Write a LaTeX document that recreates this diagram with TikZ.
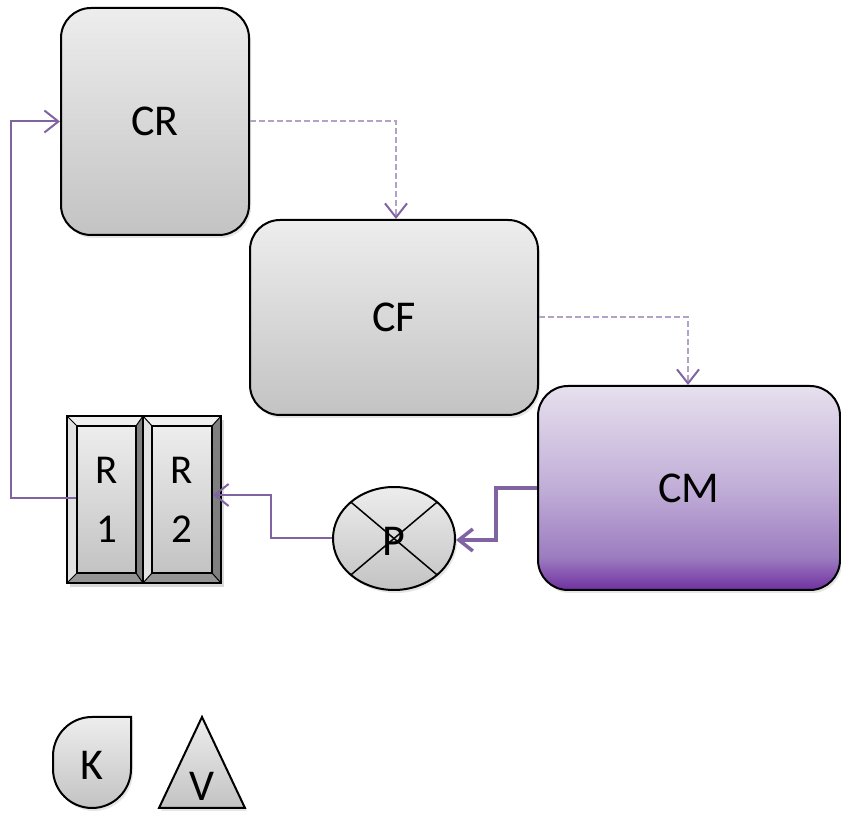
\documentclass[tikz,border=0pt]{standalone}
\usepackage{fontspec}
\setmainfont{Carlito}
\usetikzlibrary{arrows.meta,shadows,calc,shapes.geometric}
\definecolor{gtop}{HTML}{EDEDED}
\definecolor{gbot}{HTML}{C3C3C3}
\definecolor{cmtop}{HTML}{E6E0EE}
\definecolor{cmmid}{HTML}{C1AED7}
\definecolor{cmlow}{HTML}{9C7CC0}
\definecolor{cmbot}{HTML}{7030A0}
\definecolor{dashc}{HTML}{B3A2C7}
\definecolor{linec}{HTML}{8064A2}
\definecolor{bevlight}{HTML}{EFEFEF}
\definecolor{bevleft}{HTML}{E2E2E2}
\definecolor{bevright}{HTML}{7F7F7F}
\definecolor{bevbot}{HTML}{959595}
\pgfdeclareverticalshading{cmshade}{100bp}{color(0bp)=(cmbot); color(25bp)=(cmbot); color(33bp)=(cmlow); color(50bp)=(cmmid); color(75bp)=(cmtop); color(100bp)=(cmtop)}
\newcommand{\bevelbox}[8]{%
  \fill[bevlight] (#1,#4) -- (#3,#4) -- (#7,#8) -- (#5,#8) -- cycle;
  \fill[bevleft] (#1,#2) -- (#1,#4) -- (#5,#8) -- (#5,#6) -- cycle;
  \fill[bevright] (#3,#4) -- (#3,#2) -- (#7,#6) -- (#7,#8) -- cycle;
  \fill[bevbot] (#1,#2) -- (#3,#2) -- (#7,#6) -- (#5,#6) -- cycle;
  \draw[line width=1pt] (#1,#2) -- (#5,#6) (#1,#4) -- (#5,#8) (#3,#4) -- (#7,#8) (#3,#2) -- (#7,#6);
  \draw[line width=2pt] (#1,#2) rectangle (#3,#4);
}
\tikzset{
  box/.style={draw=black, line width=2pt, rounded corners=30pt, top color=gtop, bottom color=gbot,
    inner sep=0pt, font=\fontsize{44}{53}\selectfont,
    drop shadow={opacity=0.2, shadow xshift=2pt, shadow yshift=-3pt}},
  face/.style={draw=black, line width=2pt, top color=gtop, bottom color=gbot, inner sep=0pt,
    align=center, font=\fontsize{41}{59}\selectfont},
  tip/.style={-{Straight Barb[length=14pt,width=22pt,line width=2pt,color=linec]}},
  dashconn/.style={tip, draw=dashc, line width=2pt, dash pattern=on 6pt off 3pt},
  thinconn/.style={tip, draw=linec, line width=2pt},
  thickconn/.style={-{Straight Barb[length=14pt,width=22pt,line width=3.5pt,color=linec]}, draw=linec, line width=4pt},
  lbl/.style={font=\fontsize{44}{53}\selectfont, inner sep=0pt}
}
\begin{document}
\begin{tikzpicture}[x=1pt,y=1pt]
\useasboundingbox (0,0) rectangle (841,814);
% main boxes
\node[box, minimum width=188pt, minimum height=227pt] (cr) at (155,692.5) {CR};
\node[box, minimum width=288pt, minimum height=195pt] (cf) at (394,496.5) {CF};
\node[box, minimum width=302pt, minimum height=204pt, shading=cmshade] (cm) at (689,326) {CM};
% pump
\node[draw=black, line width=2pt, ellipse, minimum width=122pt, minimum height=103pt, inner sep=0pt,
  top color=gtop, bottom color=gbot, drop shadow={opacity=0.2, shadow xshift=2pt, shadow yshift=-3pt}] (p) at (394,275.5) {};
\draw[line width=1.5pt] ($(p.center)+(43.1,36.4)$) -- ($(p.center)+(-43.1,-36.4)$);
\draw[line width=1.5pt] ($(p.center)+(-43.1,36.4)$) -- ($(p.center)+(43.1,-36.4)$);
\node[lbl] (ptext) at (394,273) {P};
% bevel boxes
\fill[black, opacity=0.15] (70,227) rectangle (224,394);
\bevelbox{67}{231}{143}{398}{77}{241}{136}{388}
\bevelbox{143}{231}{221}{398}{152}{241}{212}{388}
\node[face, minimum width=59pt, minimum height=147pt] (r1) at (106.5,314.5) {R\\1};
\node[face, minimum width=60pt, minimum height=147pt] (r2) at (182,314.5) {R\\2};
% K shape
\draw[line width=2pt, top color=gtop, bottom color=gbot, drop shadow={opacity=0.2, shadow xshift=2pt, shadow yshift=-3pt}]
  (131,97) -- (131,45) arc[start angle=0,end angle=-90,radius=39]
  arc[start angle=-90,end angle=-180,radius=39] -- (53,58)
  arc[start angle=180,end angle=90,radius=39] -- cycle;
\node[lbl] (k) at (92,49) {K};
% V triangle
\draw[line width=2pt, top color=gtop, bottom color=gbot, drop shadow={opacity=0.2, shadow xshift=2pt, shadow yshift=-3pt}]
  (202,97) -- (245,6) -- (159,6) -- cycle;
\node[lbl] (v) at (202,28) {V};
% connectors
\draw[dashconn] (cr.east) -| ($(cf.north)+(2,0)$);
\draw[dashconn] (cf.east) -| ($(cm.north)+(-1,0)$);
\draw[thickconn] (cm.west) -- ++(-41,0) |- ($(p.east)+(0,-1.5)$);
\draw[thinconn] (p.west) -- ++(-61,0) |- ($(r2.east)+(0,4.5)$);
\draw[thinconn] ($(r1.west)+(0,1.5)$) -- ++(-65,0) |- (cr.west);
\end{tikzpicture}
\end{document}
